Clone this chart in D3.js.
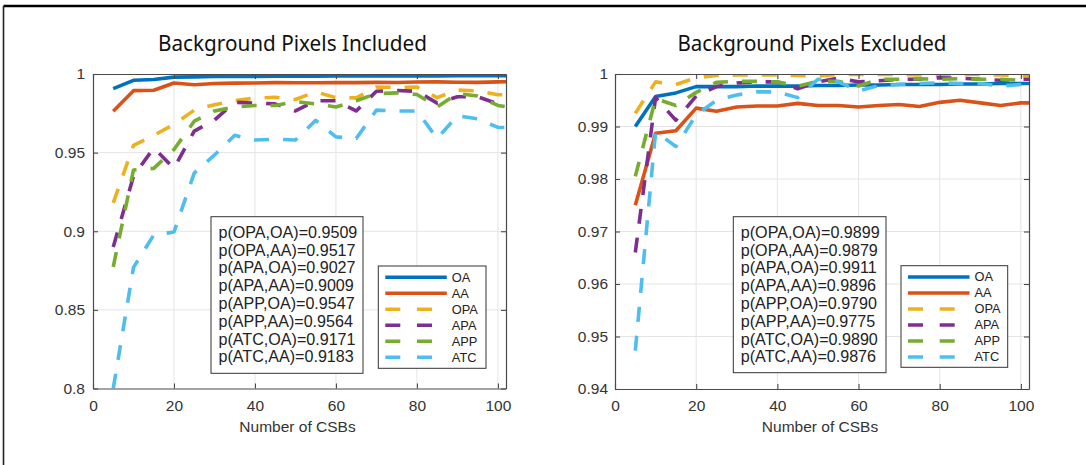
<!DOCTYPE html>
<html>
<head>
<meta charset="utf-8">
<script src="https://cdn.jsdelivr.net/npm/d3@7"></script>
<style>
  body { margin: 0; background: #fff; }
  svg { display: block; }
</style>
</head>
<body>
<svg id="fig" width="1086" height="465"></svg>
<script>
// ---- data ---------------------------------------------------------------
const csbs = [5, 10, 15, 20, 25, 30, 35, 40, 45, 50, 55, 60, 65, 70, 75, 80, 85, 90, 95, 100, 105];

// Background pixels included
const incOA  = [0.9907, 0.9960, 0.9965, 0.9980, 0.9982, 0.9984, 0.9985, 0.9985, 0.9986, 0.9986, 0.9986, 0.9987, 0.9987, 0.9987, 0.9988, 0.9988, 0.9988, 0.9989, 0.9989, 0.9989, 0.9989];
const incAA  = [0.9763, 0.9894, 0.9897, 0.9943, 0.9932, 0.9940, 0.9942, 0.9943, 0.9945, 0.9944, 0.9944, 0.9946, 0.9945, 0.9947, 0.9946, 0.9949, 0.9950, 0.9948, 0.9947, 0.9950, 0.9951];
const incOPA = [0.9180, 0.9546, 0.9610, 0.9680, 0.9770, 0.9805, 0.9830, 0.9847, 0.9852, 0.9838, 0.9886, 0.9850, 0.9848, 0.9917, 0.9915, 0.9917, 0.9850, 0.9898, 0.9892, 0.9868, 0.9868];
const incAPA = [0.8900, 0.9350, 0.9530, 0.9400, 0.9637, 0.9707, 0.9820, 0.9815, 0.9810, 0.9765, 0.9830, 0.9830, 0.9765, 0.9890, 0.9895, 0.9890, 0.9815, 0.9855, 0.9855, 0.9810, 0.9810];
const incAPP = [0.8774, 0.9390, 0.9400, 0.9520, 0.9700, 0.9765, 0.9790, 0.9800, 0.9800, 0.9825, 0.9810, 0.9790, 0.9830, 0.9875, 0.9880, 0.9870, 0.9790, 0.9875, 0.9860, 0.9800, 0.9780];
const incATC = [0.8000, 0.8770, 0.8976, 0.8995, 0.9370, 0.9485, 0.9610, 0.9580, 0.9585, 0.9580, 0.9705, 0.9600, 0.9590, 0.9770, 0.9765, 0.9765, 0.9590, 0.9735, 0.9715, 0.9660, 0.9660];

// Background pixels excluded
const excOA  = [0.9900, 0.9957, 0.9964, 0.9976, 0.9976, 0.9976, 0.9977, 0.9977, 0.9977, 0.9978, 0.9978, 0.9979, 0.9979, 0.9980, 0.9980, 0.9980, 0.9981, 0.9981, 0.9982, 0.9982, 0.9982];
const excAA  = [0.9750, 0.9887, 0.9892, 0.9935, 0.9929, 0.9937, 0.9939, 0.9939, 0.9944, 0.9940, 0.9940, 0.9937, 0.9940, 0.9942, 0.9938, 0.9946, 0.9950, 0.9945, 0.9940, 0.9945, 0.9945];
const excOPA = [0.9925, 0.9985, 0.9980, 0.9993, 0.9997, 0.9998, 0.9998, 0.9998, 0.9997, 0.9996, 0.9999, 0.9999, 0.9999, 0.9999, 0.9998, 0.9999, 0.9999, 0.9999, 0.9998, 0.9997, 0.9997];
const excAPA = [0.9660, 0.9955, 0.9912, 0.9958, 0.9976, 0.9983, 0.9985, 0.9985, 0.9972, 0.9985, 0.9992, 0.9985, 0.9987, 0.9990, 0.9990, 0.9993, 0.9992, 0.9990, 0.9988, 0.9990, 0.9990];
const excAPP = [0.9805, 0.9953, 0.9940, 0.9965, 0.9984, 0.9986, 0.9986, 0.9985, 0.9977, 0.9986, 0.9986, 0.9977, 0.9990, 0.9990, 0.9991, 0.9990, 0.9991, 0.9990, 0.9990, 0.9988, 0.9988];
const excATC = [0.9473, 0.9890, 0.9862, 0.9922, 0.9950, 0.9960, 0.9966, 0.9966, 0.9955, 0.9990, 0.9985, 0.9968, 0.9978, 0.9980, 0.9982, 0.9983, 0.9982, 0.9982, 0.9977, 0.9980, 0.9980];

const seriesNames = ["OA", "AA", "OPA", "APA", "APP", "ATC"];

// correlation annotations
const corrLabels = ["p(OPA,OA)", "p(OPA,AA)", "p(APA,OA)", "p(APA,AA)", "p(APP,OA)", "p(APP,AA)", "p(ATC,OA)", "p(ATC,AA)"];
const incCorr = [0.9509, 0.9517, 0.9027, 0.9009, 0.9547, 0.9564, 0.9171, 0.9183];
const excCorr = [0.9899, 0.9879, 0.9911, 0.9896, 0.9790, 0.9775, 0.9890, 0.9876];

// axis ticks
const xTicks = [0, 20, 40, 60, 80, 100];
const incYTicks = [0.8, 0.85, 0.9, 0.95, 1];
const incYTickLabels = ["0.8", "0.85", "0.9", "0.95", "1"];
const excYTicks = [0.94, 0.95, 0.96, 0.97, 0.98, 0.99, 1];
const excYTickLabels = ["0.94", "0.95", "0.96", "0.97", "0.98", "0.99", "1"];

// ---- styles -------------------------------------------------------------
const seriesColors = ["#0072BD", "#D95319", "#EDB120", "#7E2F8E", "#77AC30", "#4DBEEE"];
const seriesDashed = [false, false, true, true, true, true];
const tickFont = "'Liberation Sans', Arial, Helvetica, sans-serif";

const svg = d3.select("#fig");

// outer frame (top and left edges)
svg.append("line").attr("x1", 3.5).attr("x2", 1086).attr("y1", 6).attr("y2", 6)
  .attr("stroke", "#000").attr("stroke-width", 2.5);
svg.append("line").attr("x1", 3.5).attr("x2", 3.5).attr("y1", 6).attr("y2", 465)
  .attr("stroke", "#222").attr("stroke-width", 1.6);

function drawPanel(cfg) {
  const g = svg.append("g");
  const x = d3.scaleLinear().domain([0, 102]).range([cfg.left, cfg.right]);
  const y = d3.scaleLinear().domain(cfg.yDomain).range([cfg.bottom, cfg.top]);

  // title
  g.append("text")
    .attr("x", cfg.titleX).attr("y", 51)
    .attr("text-anchor", "middle")
    .attr("font-family", "'Liberation Sans Narrow', 'Noto Sans', sans-serif")
    .attr("font-size", 21)
    .attr("textLength", 269).attr("lengthAdjust", "spacingAndGlyphs")
    .attr("fill", "#111")
    .text(cfg.title);

  // grid
  const grid = g.append("g").attr("stroke", "#e4e4e4").attr("stroke-width", 1);
  grid.selectAll("line.gx").data(xTicks.filter(t => t > 0)).join("line")
    .attr("x1", d => x(d)).attr("x2", d => x(d))
    .attr("y1", cfg.top).attr("y2", cfg.bottom);
  grid.selectAll("line.gy").data(cfg.yTicks.slice(1, -1)).join("line")
    .attr("x1", cfg.left).attr("x2", cfg.right)
    .attr("y1", d => y(d)).attr("y2", d => y(d));

  // data lines, clipped to the axes box
  const clipId = "clip-" + cfg.id;
  svg.append("defs").append("clipPath").attr("id", clipId)
    .append("rect")
    .attr("x", cfg.left).attr("y", cfg.top)
    .attr("width", cfg.right - cfg.left).attr("height", cfg.bottom - cfg.top);

  const line = d3.line().x(d => x(d[0])).y(d => y(d[1]));
  const lines = g.append("g").attr("clip-path", `url(#${clipId})`)
    .attr("fill", "none").attr("stroke-linejoin", "round");
  cfg.series.forEach((vals, i) => {
    lines.append("path")
      .datum(csbs.map((c, k) => [c, vals[k]]))
      .attr("d", line)
      .attr("stroke", seriesColors[i])
      .attr("stroke-width", 3.6)
      .attr("stroke-dasharray", seriesDashed[i] ? "15,14" : null);
  });

  // axes (ticks point inward on all four sides)
  const axisColor = "#4a4a4a";
  const styleAxis = sel => {
    sel.select(".domain").attr("stroke", axisColor).attr("stroke-width", 1.2);
    sel.selectAll(".tick line").attr("stroke", axisColor).attr("stroke-width", 1.1);
    sel.selectAll(".tick text").attr("fill", "#333")
      .attr("font-family", tickFont).attr("font-size", 15.5);
  };
  g.append("g").attr("transform", `translate(0,${cfg.bottom})`)
    .call(d3.axisBottom(x).tickValues(xTicks).tickFormat(d3.format("d"))
      .tickSizeInner(-5).tickSizeOuter(0).tickPadding(11))
    .call(styleAxis);
  g.append("g").attr("transform", `translate(0,${cfg.top})`)
    .call(d3.axisTop(x).tickValues(xTicks).tickFormat("")
      .tickSizeInner(-5).tickSizeOuter(0))
    .call(styleAxis);
  g.append("g").attr("transform", `translate(${cfg.left},0)`)
    .call(d3.axisLeft(y).tickValues(cfg.yTicks)
      .tickFormat((d, i) => cfg.yTickLabels[i])
      .tickSizeInner(-5).tickSizeOuter(0).tickPadding(cfg.yPad))
    .call(styleAxis);
  g.append("g").attr("transform", `translate(${cfg.right},0)`)
    .call(d3.axisRight(y).tickValues(cfg.yTicks).tickFormat("")
      .tickSizeInner(-5).tickSizeOuter(0))
    .call(styleAxis);

  // x-axis label
  g.append("text")
    .attr("x", (cfg.left + cfg.right) / 2 - 2).attr("y", 432)
    .attr("text-anchor", "middle")
    .attr("font-family", tickFont).attr("font-size", 15.5)
    .attr("fill", "#333")
    .text("Number of CSBs");

  // correlation box
  const cb = cfg.corrBox;
  g.append("rect").attr("x", cb.x).attr("y", cb.y)
    .attr("width", cb.w).attr("height", cb.h)
    .attr("fill", "#fff").attr("stroke", "#333").attr("stroke-width", 1);
  g.selectAll("text.corr").data(corrLabels).join("text")
    .attr("x", cb.x + 7.5)
    .attr("y", (d, i) => cb.y + 15.6 + i * 17.77)
    .attr("dy", "0.35em")
    .attr("font-family", tickFont).attr("font-size", 16.1)
    .attr("fill", "#222")
    .text((d, i) => `${d}=${cfg.corr[i].toFixed(4)}`);

  // legend
  const lg = cfg.legend;
  g.append("rect").attr("x", lg.x).attr("y", lg.y)
    .attr("width", lg.w).attr("height", lg.h)
    .attr("fill", "#fff").attr("stroke", "#333").attr("stroke-width", 1);
  seriesNames.forEach((name, i) => {
    const cy = lg.y + 11.3 + i * 16;
    g.append("line")
      .attr("x1", lg.x + 7).attr("x2", lg.x + 68.5)
      .attr("y1", cy).attr("y2", cy)
      .attr("stroke", seriesColors[i]).attr("stroke-width", 3.6)
      .attr("stroke-dasharray", seriesDashed[i] ? "15,16.7" : null);
    g.append("text")
      .attr("x", lg.x + 73.5).attr("y", cy).attr("dy", "0.35em")
      .attr("font-family", tickFont).attr("font-size", 12.8)
      .attr("fill", "#222")
      .text(name);
  });
}

drawPanel({
  id: "inc", title: "Background Pixels Included", titleX: 292.5,
  left: 93, right: 506, top: 74, bottom: 388.5,
  yDomain: [0.8, 1], yTicks: incYTicks, yTickLabels: incYTickLabels, yPad: 8,
  series: [incOA, incAA, incOPA, incAPA, incAPP, incATC],
  corr: incCorr,
  corrBox: { x: 211, y: 216.7, w: 152, h: 156.6 },
  legend: { x: 378.3, y: 266, w: 107.7, h: 102.3 }
});

drawPanel({
  id: "exc", title: "Background Pixels Excluded", titleX: 812,
  left: 615, right: 1029, top: 74, bottom: 389,
  yDomain: [0.94, 1], yTicks: excYTicks, yTickLabels: excYTickLabels, yPad: 7,
  series: [excOA, excAA, excOPA, excAPA, excAPP, excATC],
  corr: excCorr,
  corrBox: { x: 733.3, y: 216.7, w: 152.7, h: 156 },
  legend: { x: 901, y: 265.7, w: 106.7, h: 101.6 }
});
</script>
</body>
</html>
